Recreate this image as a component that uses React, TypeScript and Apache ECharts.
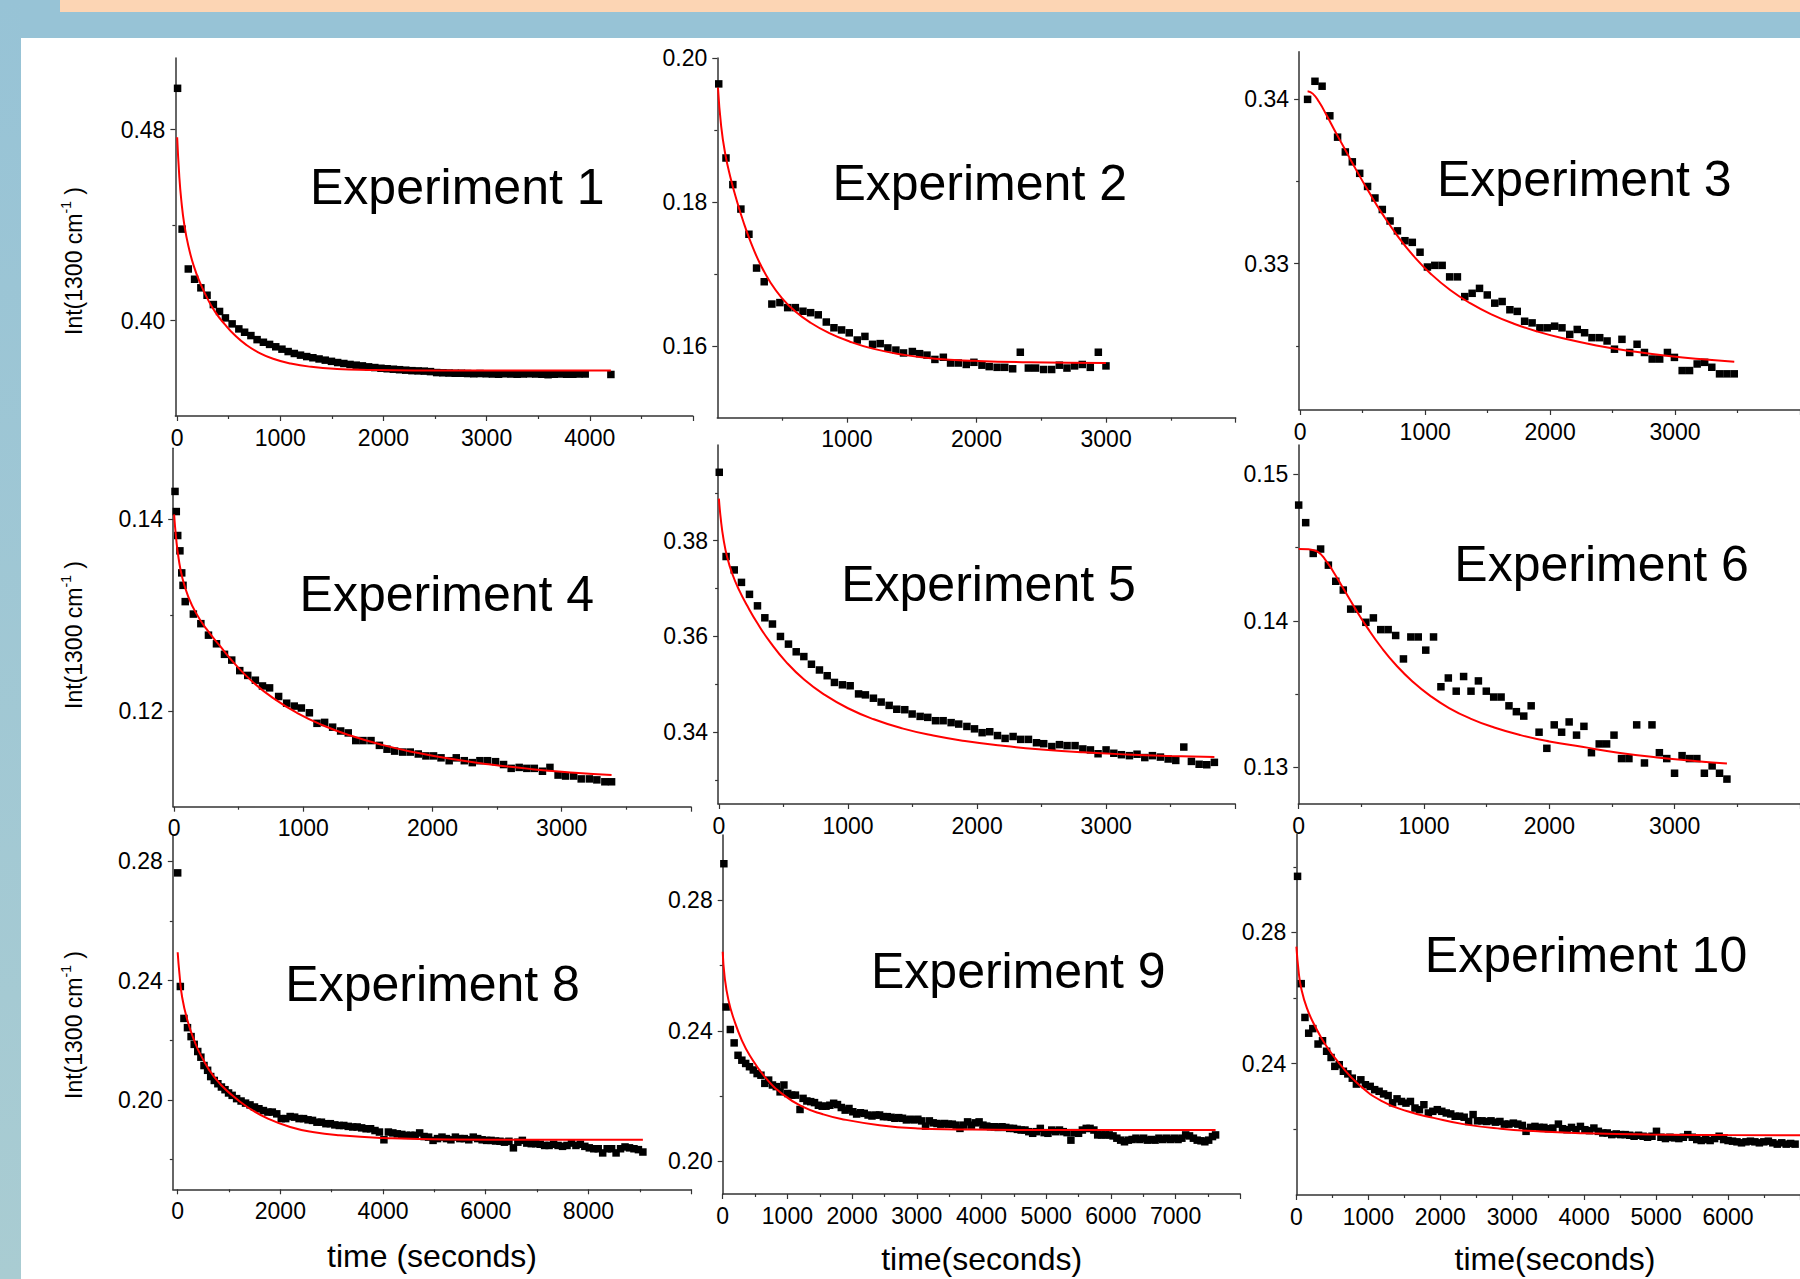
import React, { useEffect, useRef } from "react";
import * as echarts from "echarts";

const FONT = "'Liberation Sans', Arial, Helvetica, sans-serif";
const AXIS_COLOR = "#333333";

// ---------- Experiment 1 ----------
const exp1Points = [[4,0.4973],[48,0.4383],[108,0.4216],[169,0.4173],[230,0.4137],[290,0.4106],[351,0.4067],[411,0.4038],[468,0.4011],[533,0.3986],[598,0.3965],[654,0.3951],[715,0.3937],[775,0.3920],[836,0.3909],[896,0.3900],[956,0.3890],[1016,0.3880],[1076,0.3870],[1136,0.3862],[1196,0.3855],[1256,0.3849],[1316,0.3844],[1376,0.3839],[1436,0.3834],[1496,0.3829],[1556,0.3824],[1616,0.3820],[1676,0.3816],[1736,0.3813],[1796,0.3810],[1856,0.3806],[1916,0.3803],[1976,0.3800],[2036,0.3798],[2096,0.3796],[2156,0.3794],[2216,0.3792],[2276,0.3790],[2336,0.3789],[2396,0.3788],[2456,0.3786],[2516,0.3782],[2576,0.3781],[2636,0.3780],[2696,0.3779],[2756,0.3779],[2816,0.3778],[2876,0.3777],[2936,0.3778],[2996,0.3777],[3056,0.3776],[3116,0.3775],[3176,0.3777],[3236,0.3776],[3296,0.3775],[3356,0.3776],[3416,0.3777],[3476,0.3776],[3536,0.3775],[3596,0.3773],[3656,0.3775],[3716,0.3776],[3776,0.3775],[3836,0.3775],[3896,0.3776],[3956,0.3776],[4205,0.3774]];
const exp1Fit = [[0,0.4768],[20,0.4610],[40,0.4505],[70,0.4400],[110,0.4310],[160,0.4230],[220,0.4160],[290,0.4095],[370,0.4035],[460,0.3985],[560,0.3938],[670,0.3898],[790,0.3866],[930,0.3840],[1100,0.3820],[1300,0.3806],[1550,0.3797],[1850,0.3793],[2300,0.3791],[3200,0.3791],[4205,0.3791]];
const exp1XLabels = [0,1000,2000,3000,4000];
const exp1XMajor = [0,1000,2000,3000,4000,5000];
const exp1XMinor = [500,1500,2500,3500,4500];
const exp1YLabels = [0.40,0.48];
const exp1YMinor = [0.44];

// ---------- Experiment 2 ----------
const exp2Points = [[11,0.1964],[67,0.1861],[120,0.1824],[182,0.1790],[244,0.1755],[303,0.1708],[362,0.1689],[421,0.1658],[483,0.1660],[543,0.1653],[602,0.1653],[661,0.1648],[720,0.1646],[779,0.1643],[841,0.1633],[900,0.1625],[959,0.1622],[1018,0.1618],[1080,0.1608],[1139,0.1613],[1198,0.1602],[1257,0.1603],[1316,0.1597],[1378,0.1594],[1437,0.1590],[1505,0.1592],[1561,0.1589],[1618,0.1587],[1679,0.1581],[1744,0.1584],[1800,0.1576],[1859,0.1576],[1921,0.1574],[1980,0.1577],[2042,0.1573],[2098,0.1571],[2159,0.1570],[2218,0.1570],[2279,0.1568],[2338,0.1591],[2400,0.1569],[2456,0.1569],[2518,0.1567],[2580,0.1567],[2639,0.1573],[2698,0.1569],[2757,0.1572],[2816,0.1574],[2878,0.1570],[2940,0.1591],[2999,0.1572]];
const exp2Fit = [[5,0.1959],[30,0.1905],[60,0.1868],[100,0.1835],[150,0.1802],[200,0.1773],[260,0.1743],[330,0.1714],[410,0.1688],[500,0.1666],[600,0.1648],[720,0.1632],[860,0.1618],[1020,0.1606],[1200,0.1596],[1420,0.1588],[1680,0.1582],[2000,0.1579],[2400,0.1577],[2999,0.1576]];
const exp2XLabels = [1000,2000,3000];
const exp2XMajor = [1000,2000,3000,4000];
const exp2XMinor = [500,1500,2500,3500];
const exp2YLabels = [0.16,0.18,0.20];
const exp2YMinor = [0.17,0.19];

// ---------- Experiment 3 ----------
const exp3Points = [[59,0.3400],[118,0.3411],[175,0.3408],[237,0.3390],[299,0.3377],[361,0.3368],[417,0.3362],[476,0.3355],[539,0.3347],[598,0.3340],[657,0.3333],[719,0.3326],[778,0.3320],[838,0.3314],[897,0.3313],[959,0.3307],[1018,0.3298],[1077,0.3299],[1136,0.3299],[1196,0.3292],[1258,0.3292],[1317,0.3280],[1376,0.3282],[1435,0.3285],[1497,0.3281],[1557,0.3276],[1616,0.3277],[1678,0.3272],[1737,0.3271],[1796,0.3265],[1856,0.3264],[1918,0.3261],[1977,0.3261],[2036,0.3262],[2095,0.3261],[2157,0.3257],[2217,0.3260],[2276,0.3258],[2335,0.3255],[2397,0.3255],[2456,0.3253],[2515,0.3248],[2575,0.3254],[2637,0.3246],[2696,0.3251],[2755,0.3246],[2817,0.3242],[2877,0.3242],[2939,0.3246],[2995,0.3243],[3057,0.3235],[3116,0.3235],[3177,0.3239],[3237,0.3240],[3294,0.3237],[3356,0.3233],[3415,0.3233],[3474,0.3233]];
const exp3Fit = [[59,0.34049],[100,0.34035],[150,0.33985],[210,0.33905],[280,0.33805],[360,0.33693],[450,0.33568],[550,0.33436],[660,0.33300],[780,0.33168],[910,0.33045],[1050,0.32935],[1200,0.32840],[1360,0.32760],[1530,0.32692],[1710,0.32635],[1900,0.32587],[2120,0.32543],[2370,0.32503],[2650,0.32468],[2950,0.32438],[3270,0.32415],[3474,0.32403]];
const exp3XLabels = [0,1000,2000,3000];
const exp3XMajor = [0,1000,2000,3000,4000];
const exp3XMinor = [500,1500,2500,3500];
const exp3YLabels = [0.33,0.34];
const exp3YMinor = [0.325,0.335];

// ---------- Experiment 4 ----------
const exp4Points = [[7,0.1429],[17,0.1408],[28,0.1383],[45,0.1367],[59,0.1344],[69,0.1331],[86,0.1314],[149,0.1301],[207,0.1291],[266,0.1279],[328,0.1270],[390,0.1259],[446,0.1253],[508,0.1242],[570,0.1237],[629,0.1232],[684,0.1226],[739,0.1224],[809,0.1215],[871,0.1208],[930,0.1205],[985,0.1203],[1047,0.1198],[1106,0.1187],[1165,0.1188],[1227,0.1183],[1289,0.1179],[1348,0.1177],[1406,0.1169],[1462,0.1169],[1524,0.1169],[1589,0.1164],[1648,0.1160],[1707,0.1158],[1769,0.1157],[1828,0.1157],[1890,0.1155],[1949,0.1153],[2008,0.1153],[2066,0.1151],[2129,0.1148],[2184,0.1151],[2246,0.1148],[2308,0.1146],[2367,0.1148],[2426,0.1148],[2488,0.1147],[2550,0.1144],[2609,0.1140],[2671,0.1141],[2730,0.1140],[2788,0.1140],[2851,0.1137],[2909,0.1141],[2972,0.1133],[3030,0.1132],[3093,0.1132],[3151,0.1129],[3214,0.1129],[3272,0.1128],[3334,0.1126],[3386,0.1126]];
const exp4Fit = [[0,0.14050],[15,0.13810],[35,0.13590],[65,0.13380],[110,0.13190],[170,0.13020],[250,0.12855],[350,0.12685],[470,0.12490],[610,0.12300],[770,0.12130],[950,0.11980],[1150,0.11850],[1370,0.11740],[1610,0.11645],[1870,0.11565],[2150,0.11497],[2450,0.11440],[2770,0.11392],[3100,0.11355],[3386,0.11330]];
const exp4XLabels = [0,1000,2000,3000];
const exp4XMajor = [0,1000,2000,3000,4000];
const exp4XMinor = [500,1500,2500,3500];
const exp4YLabels = [0.12,0.14];
const exp4YMinor = [0.13];

// ---------- Experiment 5 ----------
const exp5Points = [[3,0.3943],[56,0.3767],[119,0.3739],[175,0.3713],[237,0.3688],[299,0.3664],[356,0.3639],[415,0.3626],[477,0.3600],[539,0.3584],[599,0.3568],[658,0.3558],[717,0.3542],[779,0.3530],[839,0.3518],[895,0.3504],[957,0.3499],[1017,0.3497],[1082,0.3480],[1135,0.3478],[1197,0.3471],[1257,0.3463],[1319,0.3456],[1378,0.3448],[1440,0.3447],[1497,0.3438],[1559,0.3433],[1618,0.3431],[1678,0.3424],[1737,0.3424],[1799,0.3420],[1858,0.3417],[1921,0.3412],[1980,0.3407],[2039,0.3399],[2098,0.3401],[2158,0.3393],[2217,0.3387],[2279,0.3391],[2338,0.3385],[2398,0.3385],[2460,0.3378],[2516,0.3376],[2579,0.3370],[2638,0.3374],[2697,0.3372],[2759,0.3372],[2819,0.3365],[2878,0.3363],[2937,0.3355],[2999,0.3363],[3059,0.3356],[3118,0.3353],[3180,0.3351],[3239,0.3354],[3299,0.3347],[3358,0.3351],[3420,0.3348],[3480,0.3344],[3539,0.3341],[3601,0.3369],[3660,0.3339],[3720,0.3333],[3779,0.3332],[3838,0.3337]];
const exp5Fit = [[0,0.3888],[15,0.3845],[35,0.3805],[65,0.3765],[105,0.3730],[155,0.3698],[220,0.3664],[300,0.3627],[400,0.3587],[520,0.3547],[660,0.3510],[820,0.3478],[1000,0.3450],[1200,0.3427],[1420,0.3408],[1660,0.3393],[1920,0.3381],[2200,0.33715],[2500,0.33640],[2820,0.33580],[3160,0.33535],[3500,0.33503],[3838,0.33480]];
const exp5XLabels = [0,1000,2000,3000];
const exp5XMajor = [0,1000,2000,3000,4000];
const exp5XMinor = [500,1500,2500,3500];
const exp5YLabels = [0.34,0.36,0.38];
const exp5YMinor = [0.33,0.35,0.37,0.39];

// ---------- Experiment 6 ----------
const exp6Points = [[0,0.1479],[56,0.1467],[116,0.1446],[175,0.1449],[237,0.1438],[296,0.1427],[356,0.1421],[415,0.1408],[474,0.1408],[536,0.1399],[596,0.1402],[655,0.1394],[714,0.1394],[774,0.1390],[836,0.1374],[895,0.1389],[954,0.1389],[1014,0.1380],[1076,0.1389],[1135,0.1355],[1194,0.1361],[1257,0.1352],[1316,0.1362],[1375,0.1352],[1434,0.1359],[1497,0.1352],[1556,0.1348],[1615,0.1348],[1678,0.1342],[1737,0.1338],[1796,0.1335],[1855,0.1342],[1918,0.1324],[1980,0.1313],[2039,0.1329],[2098,0.1324],[2158,0.1331],[2217,0.1322],[2276,0.1328],[2336,0.1310],[2398,0.1316],[2457,0.1316],[2516,0.1322],[2576,0.1306],[2635,0.1306],[2697,0.1329],[2759,0.1303],[2819,0.1329],[2878,0.1310],[2937,0.1306],[2999,0.1296],[3059,0.1308],[3118,0.1306],[3177,0.1306],[3237,0.1296],[3299,0.1301],[3358,0.1296],[3417,0.1292]];
const exp6Fit = [[0,0.14490],[80,0.14488],[150,0.14472],[210,0.14420],[280,0.14330],[360,0.14215],[450,0.14085],[550,0.13950],[660,0.13818],[780,0.13695],[910,0.13585],[1050,0.13488],[1200,0.13405],[1370,0.13333],[1560,0.13272],[1770,0.13220],[2000,0.13177],[2260,0.13140],[2550,0.13100],[2860,0.13068],[3180,0.13042],[3417,0.13026]];
const exp6XLabels = [0,1000,2000,3000];
const exp6XMajor = [0,1000,2000,3000,4000];
const exp6XMinor = [500,1500,2500,3500];
const exp6YLabels = [0.13,0.14,0.15];
const exp6YMinor = [0.135,0.145];

// ---------- Experiment 8 ----------
const exp8Points = [[0,0.2761],[52,0.2380],[122,0.2273],[191,0.2242],[261,0.2212],[322,0.2186],[391,0.2162],[452,0.2143],[513,0.2115],[583,0.2099],[643,0.2078],[713,0.2065],[783,0.2054],[852,0.2043],[922,0.2034],[991,0.2023],[1061,0.2015],[1148,0.2004],[1235,0.1996],[1322,0.1989],[1409,0.1983],[1496,0.1976],[1583,0.1970],[1670,0.1964],[1757,0.1959],[1843,0.1959],[1930,0.1953],[2017,0.1937],[2104,0.1937],[2191,0.1944],[2278,0.1942],[2365,0.1937],[2452,0.1937],[2539,0.1933],[2626,0.1931],[2713,0.1925],[2800,0.1925],[2887,0.1920],[2974,0.1920],[3061,0.1916],[3148,0.1914],[3235,0.1914],[3322,0.1911],[3409,0.1909],[3496,0.1909],[3583,0.1906],[3670,0.1903],[3757,0.1903],[3843,0.1897],[3930,0.1892],[4017,0.1866],[4104,0.1892],[4191,0.1889],[4278,0.1886],[4365,0.1884],[4452,0.1881],[4539,0.1881],[4626,0.1881],[4713,0.1889],[4800,0.1877],[4887,0.1875],[4974,0.1864],[5061,0.1870],[5148,0.1875],[5235,0.1870],[5322,0.1866],[5409,0.1875],[5496,0.1870],[5583,0.1870],[5670,0.1866],[5757,0.1875],[5843,0.1870],[5930,0.1866],[6017,0.1864],[6104,0.1864],[6191,0.1862],[6278,0.1861],[6365,0.1858],[6452,0.1861],[6539,0.1839],[6626,0.1858],[6713,0.1864],[6800,0.1855],[6887,0.1853],[6974,0.1853],[7061,0.1851],[7148,0.1847],[7235,0.1847],[7322,0.1851],[7409,0.1847],[7496,0.1844],[7583,0.1847],[7670,0.1855],[7757,0.1847],[7843,0.1851],[7930,0.1844],[8017,0.1839],[8104,0.1836],[8191,0.1836],[8278,0.1822],[8365,0.1836],[8452,0.1836],[8539,0.1822],[8626,0.1836],[8713,0.1842],[8800,0.1839],[8887,0.1836],[8974,0.1833],[9061,0.1825]];
const exp8Fit = [[0,0.2495],[35,0.2422],[87,0.2344],[191,0.2266],[322,0.2199],[452,0.2149],[713,0.2076],[1061,0.2015],[1409,0.1970],[1757,0.1937],[2191,0.1909],[2626,0.1892],[3148,0.1881],[4017,0.1872],[5235,0.1867],[7000,0.18662],[9061,0.1866]];
const exp8XLabels = [0,2000,4000,6000,8000];
const exp8XMajor = [0,2000,4000,6000,8000,10000];
const exp8XMinor = [1000,3000,5000,7000,9000];
const exp8YLabels = [0.20,0.24,0.28];
const exp8YMinor = [0.18,0.22,0.26];

// ---------- Experiment 9 ----------
const exp9Points = [[18,0.2912],[53,0.2473],[118,0.2404],[177,0.2363],[237,0.2325],[296,0.2310],[355,0.2300],[414,0.2290],[473,0.2280],[532,0.2269],[591,0.2264],[651,0.2239],[710,0.2249],[769,0.2234],[828,0.2229],[887,0.2213],[946,0.2234],[1005,0.2208],[1065,0.2203],[1124,0.2203],[1195,0.2159],[1242,0.2193],[1301,0.2185],[1360,0.2183],[1419,0.2180],[1479,0.2172],[1538,0.2169],[1597,0.2169],[1656,0.2172],[1715,0.2178],[1774,0.2174],[1833,0.2165],[1893,0.2157],[1952,0.2162],[2011,0.2152],[2070,0.2145],[2129,0.2149],[2188,0.2147],[2247,0.2142],[2307,0.2139],[2366,0.2142],[2425,0.2142],[2484,0.2137],[2543,0.2137],[2602,0.2135],[2661,0.2132],[2721,0.2134],[2780,0.2132],[2839,0.2127],[2898,0.2129],[2957,0.2127],[3016,0.2129],[3075,0.2124],[3135,0.2108],[3194,0.2124],[3253,0.2118],[3312,0.2116],[3371,0.2114],[3430,0.2116],[3489,0.2114],[3549,0.2114],[3608,0.2111],[3667,0.2101],[3726,0.2111],[3785,0.2121],[3844,0.2111],[3903,0.2118],[3963,0.2121],[4022,0.2111],[4081,0.2108],[4140,0.2106],[4199,0.2106],[4258,0.2104],[4317,0.2106],[4377,0.2104],[4436,0.2101],[4495,0.2101],[4554,0.2098],[4613,0.2096],[4672,0.2096],[4731,0.2091],[4791,0.2086],[4850,0.2091],[4909,0.2101],[4968,0.2088],[5027,0.2086],[5086,0.2096],[5145,0.2091],[5205,0.2096],[5264,0.2091],[5323,0.2088],[5382,0.2065],[5441,0.2088],[5500,0.2086],[5559,0.2096],[5619,0.2101],[5678,0.2101],[5737,0.2096],[5796,0.2081],[5855,0.2081],[5914,0.2081],[5973,0.2081],[6033,0.2078],[6092,0.2071],[6151,0.2065],[6210,0.2060],[6269,0.2065],[6328,0.2067],[6387,0.2071],[6447,0.2067],[6506,0.2071],[6565,0.2065],[6624,0.2067],[6683,0.2065],[6742,0.2071],[6801,0.2067],[6861,0.2071],[6920,0.2067],[6979,0.2071],[7038,0.2067],[7097,0.2071],[7156,0.2081],[7215,0.2078],[7275,0.2071],[7334,0.2065],[7393,0.2063],[7452,0.2060],[7511,0.2065],[7570,0.2076],[7618,0.2081]];
const exp9Fit = [[0,0.2642],[30,0.2565],[89,0.2494],[177,0.2433],[296,0.2371],[414,0.2326],[651,0.2259],[946,0.2203],[1242,0.2167],[1538,0.2145],[1833,0.2130],[2425,0.2111],[3016,0.2101],[3608,0.2098],[4791,0.2096],[7618,0.2096]];
const exp9XLabels = [0,1000,2000,3000,4000,5000,6000,7000];
const exp9XMajor = [0,1000,2000,3000,4000,5000,6000,7000,8000];
const exp9XMinor = [500,1500,2500,3500,4500,5500,6500,7500];
const exp9YLabels = [0.20,0.24,0.28];
const exp9YMinor = [0.22,0.26];

// ---------- Experiment 10 ----------
const exp10Points = [[16,0.2971],[67,0.2644],[119,0.2541],[171,0.2493],[228,0.2507],[301,0.2460],[363,0.2470],[420,0.2438],[482,0.2419],[534,0.2392],[596,0.2397],[653,0.2377],[715,0.2369],[777,0.2356],[834,0.2338],[896,0.2351],[959,0.2336],[1026,0.2331],[1088,0.2321],[1150,0.2316],[1212,0.2308],[1275,0.2303],[1337,0.2281],[1399,0.2293],[1461,0.2285],[1523,0.2280],[1585,0.2285],[1648,0.2265],[1710,0.2260],[1772,0.2275],[1834,0.2250],[1896,0.2255],[1959,0.2260],[2021,0.2255],[2083,0.2250],[2145,0.2247],[2207,0.2240],[2269,0.2240],[2332,0.2237],[2394,0.2224],[2456,0.2245],[2518,0.2226],[2580,0.2226],[2642,0.2224],[2705,0.2226],[2767,0.2222],[2829,0.2224],[2891,0.2216],[2953,0.2216],[3016,0.2219],[3078,0.2216],[3140,0.2212],[3192,0.2194],[3254,0.2206],[3316,0.2209],[3378,0.2206],[3440,0.2206],[3503,0.2202],[3565,0.2204],[3642,0.2216],[3699,0.2202],[3762,0.2199],[3824,0.2206],[3886,0.2199],[3948,0.2209],[4010,0.2199],[4073,0.2196],[4135,0.2204],[4197,0.2194],[4259,0.2189],[4321,0.2189],[4383,0.2184],[4446,0.2186],[4508,0.2184],[4570,0.2184],[4632,0.2182],[4694,0.2179],[4756,0.2182],[4819,0.2179],[4881,0.2176],[4943,0.2179],[5005,0.2194],[5067,0.2176],[5130,0.2172],[5192,0.2176],[5254,0.2174],[5316,0.2172],[5378,0.2176],[5440,0.2184],[5503,0.2176],[5565,0.2169],[5627,0.2166],[5689,0.2169],[5751,0.2166],[5813,0.2172],[5876,0.2179],[5938,0.2169],[6000,0.2166],[6062,0.2164],[6124,0.2162],[6187,0.2159],[6249,0.2162],[6311,0.2164],[6373,0.2162],[6435,0.2159],[6497,0.2162],[6560,0.2164],[6622,0.2159],[6684,0.2155],[6746,0.2159],[6808,0.2155],[6870,0.2157],[6932,0.2155]];
const exp10Fit = [[0,0.2757],[31,0.2681],[67,0.2630],[145,0.2570],[249,0.2519],[404,0.2458],[611,0.2397],[870,0.2336],[1181,0.2287],[1544,0.2255],[1907,0.2235],[2321,0.2216],[2839,0.2202],[3358,0.2194],[3876,0.2189],[4912,0.2184],[6000,0.21825],[7000,0.2182]];
const exp10XLabels = [0,1000,2000,3000,4000,5000,6000];
const exp10XMajor = [0,1000,2000,3000,4000,5000,6000,7000];
const exp10XMinor = [500,1500,2500,3500,4500,5500,6500];
const exp10YLabels = [0.24,0.28];
const exp10YMinor = [0.22,0.26,0.30];

const xTitleLeft = "time (seconds)";
const xTitleOther = "time(seconds)";

type Panel = {
  title: string;
  points: number[][];
  fit: number[][];
  box: { left: number; top: number; width: number; height: number };
  xRange: [number, number];
  yRange: [number, number];
  xLabels: number[];
  xMajor: number[];
  xMinor: number[];
  yLabels: number[];
  yMinor: number[];
  titleAt: [number, number];
};

const panels: Panel[] = [
  { title: "Experiment 1", points: exp1Points, fit: exp1Fit, box: { left: 175.4, top: 58, width: 517.5, height: 358 }, xRange: [-17, 5000], yRange: [0.36, 0.51], xLabels: exp1XLabels, xMajor: exp1XMajor, xMinor: exp1XMinor, yLabels: exp1YLabels, yMinor: exp1YMinor, titleAt: [310, 186.7] },
  { title: "Experiment 2", points: exp2Points, fit: exp2Fit, box: { left: 717.3, top: 58, width: 518.4, height: 359.7 }, xRange: [0, 4000], yRange: [0.15, 0.20], xLabels: exp2XLabels, xMajor: exp2XMajor, xMinor: exp2XMinor, yLabels: exp2YLabels, yMinor: exp2YMinor, titleAt: [832.4, 182.7] },
  { title: "Experiment 3", points: exp3Points, fit: exp3Fit, box: { left: 1299.1, top: 51.7, width: 518.4, height: 358.3 }, xRange: [-9, 4000], yRange: [0.3211, 0.3429], xLabels: exp3XLabels, xMajor: exp3XMajor, xMinor: exp3XMinor, yLabels: exp3YLabels, yMinor: exp3YMinor, titleAt: [1437, 179.4] },
  { title: "Experiment 4", points: exp4Points, fit: exp4Fit, box: { left: 173.2, top: 448.3, width: 517.7, height: 358.4 }, xRange: [-7, 4000], yRange: [0.11, 0.1474], xLabels: exp4XLabels, xMajor: exp4XMajor, xMinor: exp4XMinor, yLabels: exp4YLabels, yMinor: exp4YMinor, titleAt: [299.6, 594.4] },
  { title: "Experiment 5", points: exp5Points, fit: exp5Fit, box: { left: 718.1, top: 445, width: 517.2, height: 359 }, xRange: [-6, 4000], yRange: [0.325, 0.40], xLabels: exp5XLabels, xMajor: exp5XMajor, xMinor: exp5XMinor, yLabels: exp5YLabels, yMinor: exp5YMinor, titleAt: [841.2, 584.4] },
  { title: "Experiment 6", points: exp6Points, fit: exp6Fit, box: { left: 1298.3, top: 445, width: 516.8, height: 359 }, xRange: [-3, 4000], yRange: [0.1275, 0.152], xLabels: exp6XLabels, xMajor: exp6XMajor, xMinor: exp6XMinor, yLabels: exp6YLabels, yMinor: exp6YMinor, titleAt: [1454.3, 564.4] },
  { title: "Experiment 8", points: exp8Points, fit: exp8Fit, box: { left: 172.8, top: 835, width: 518.3, height: 354.3 }, xRange: [-95, 10000], yRange: [0.17, 0.2888], xLabels: exp8XLabels, xMajor: exp8XMajor, xMinor: exp8XMinor, yLabels: exp8YLabels, yMinor: exp8YMinor, titleAt: [285.3, 984.4] },
  { title: "Experiment 9", points: exp9Points, fit: exp9Fit, box: { left: 722.7, top: 835, width: 517.6, height: 359 }, xRange: [0, 8000], yRange: [0.19, 0.30], xLabels: exp9XLabels, xMajor: exp9XMajor, xMinor: exp9XMinor, yLabels: exp9YLabels, yMinor: exp9YMinor, titleAt: [871, 971] },
  { title: "Experiment 10", points: exp10Points, fit: exp10Fit, box: { left: 1296.4, top: 834, width: 517, height: 361 }, xRange: [0, 7000], yRange: [0.20, 0.31], xLabels: exp10XLabels, xMajor: exp10XMajor, xMinor: exp10XMinor, yLabels: exp10YLabels, yMinor: exp10YMinor, titleAt: [1424.8, 955] },
];

const yTitleCenters = [261, 635, 1025];
const xTitles = [
  { text: xTitleLeft, x: 432, y: 1255.5 },
  { text: xTitleOther, x: 981.6, y: 1259 },
  { text: xTitleOther, x: 1555, y: 1259 },
];

export default function App() {
  const ref = useRef<HTMLDivElement>(null);

  useEffect(() => {
    document.body.style.margin = "0";
    if (!ref.current) return;
    const chart = echarts.init(ref.current, null, { renderer: "svg" });

    const grid: any[] = [];
    const xAxis: any[] = [];
    const yAxis: any[] = [];
    const series: any[] = [];
    const graphic: any[] = [];
    const axisLineStyle = { color: AXIS_COLOR, width: 1.5 };
    const tickStyle = { color: AXIS_COLOR, width: 1.2 };
    const labelBase = { fontSize: 23, fontFamily: FONT, color: "#000" };

    panels.forEach((p, i) => {
      grid.push({ left: p.box.left, top: p.box.top, width: p.box.width, height: p.box.height, containLabel: false });
      xAxis.push({
        type: "value", gridIndex: i, position: "bottom", min: p.xRange[0], max: p.xRange[1],
        axisLine: { show: true, onZero: false, lineStyle: axisLineStyle },
        axisTick: { show: true, customValues: p.xMajor, length: 5, lineStyle: tickStyle },
        axisLabel: { ...labelBase, customValues: p.xLabels, margin: 10, formatter: (v: number) => String(Math.round(v)) },
        splitLine: { show: false },
      });
      xAxis.push({
        type: "value", gridIndex: i, position: "bottom", min: p.xRange[0], max: p.xRange[1],
        axisLine: { show: false, onZero: false },
        axisTick: { show: true, customValues: p.xMinor, length: 3, lineStyle: tickStyle },
        axisLabel: { show: false },
        splitLine: { show: false },
      });
      yAxis.push({
        type: "value", gridIndex: i, position: "left", min: p.yRange[0], max: p.yRange[1],
        axisLine: { show: true, onZero: false, lineStyle: axisLineStyle },
        axisTick: { show: true, customValues: p.yLabels, length: 5, lineStyle: tickStyle },
        axisLabel: { ...labelBase, customValues: p.yLabels, margin: 10, formatter: (v: number) => v.toFixed(2) },
        splitLine: { show: false },
      });
      yAxis.push({
        type: "value", gridIndex: i, position: "left", min: p.yRange[0], max: p.yRange[1],
        axisLine: { show: false, onZero: false },
        axisTick: { show: true, customValues: p.yMinor, length: 3, lineStyle: tickStyle },
        axisLabel: { show: false },
        splitLine: { show: false },
      });
      series.push({
        type: "scatter", name: p.title + " data", xAxisIndex: 2 * i, yAxisIndex: 2 * i,
        data: p.points, symbol: "rect", symbolSize: 7.5, itemStyle: { color: "#000", opacity: 1 }, z: 2, silent: true,
      });
      series.push({
        type: "line", name: p.title + " fit", xAxisIndex: 2 * i, yAxisIndex: 2 * i,
        data: p.fit, smooth: 0.5, showSymbol: false, symbol: "none",
        lineStyle: { color: "#ff0000", width: 2 }, z: 3, silent: true,
      });
      graphic.push({
        type: "text", x: p.titleAt[0], y: p.titleAt[1],
        style: { text: p.title, fontSize: 50, fontFamily: FONT, fill: "#000", textAlign: "left", textVerticalAlign: "middle", align: "left", verticalAlign: "middle" },
      });
    });

    yTitleCenters.forEach((cy) => {
      graphic.push({
        type: "text", x: 73.7, y: cy, rotation: Math.PI / 2,
        style: {
          text: "{a|Int(1300 cm}{s|-1}{a| )}",
          fill: "#000", textAlign: "center", textVerticalAlign: "middle", align: "center", verticalAlign: "middle",
          rich: {
            a: { fontSize: 23, lineHeight: 30, fontFamily: FONT, fill: "#000" },
            s: { fontSize: 14, verticalAlign: "top", fontFamily: FONT, fill: "#000" },
          },
        },
      });
    });

    xTitles.forEach((t) => {
      graphic.push({
        type: "text", x: t.x, y: t.y,
        style: { text: t.text, fontSize: 32, fontFamily: FONT, fill: "#000", textAlign: "center", textVerticalAlign: "middle", align: "center", verticalAlign: "middle" },
      });
    });

    chart.setOption({
      animation: false,
      grid, xAxis, yAxis, series,
      graphic: { elements: graphic },
    });

    return () => chart.dispose();
  }, []);

  return (
    <div style={{ position: "absolute", left: 0, top: 0, width: 1800, height: 1279, overflow: "hidden", background: "#97c3d6" }}>
      <div style={{ position: "absolute", left: 0, top: 0, width: 21, height: 1279, background: "linear-gradient(#97c3d6, #a9ccd2)" }} />
      <div style={{ position: "absolute", left: 60, top: 0, width: 1740, height: 12, background: "#fcd5b4" }} />
      <div style={{ position: "absolute", left: 21, top: 38, width: 1779, height: 1241, background: "#ffffff" }} />
      <div ref={ref} style={{ position: "absolute", left: 0, top: 0, width: 1800, height: 1279 }} />
    </div>
  );
}
